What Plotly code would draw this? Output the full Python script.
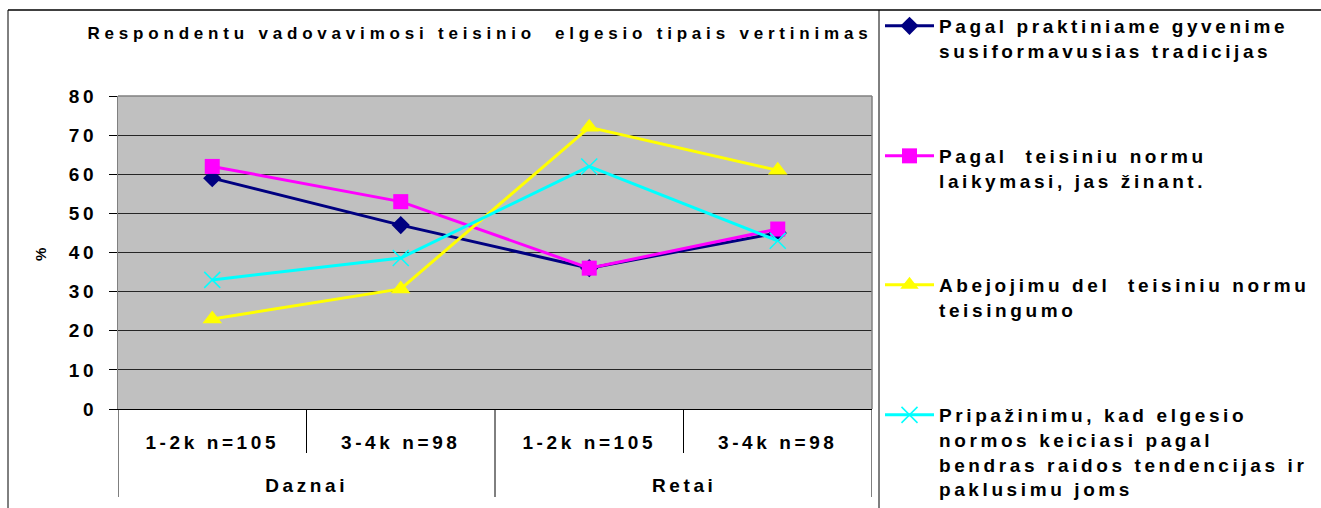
import plotly.graph_objects as go

# ---- data ----
groups = ["Daznai", "Daznai", "Retai", "Retai"]
subgroups = ["1-2k n=105", "3-4k n=98", "1-2k n=105", "3-4k n=98"]
series_names = [
    "Pagal praktiniame gyvenime<br>susiformavusias tradicijas",
    "Pagal  teisiniu normu<br>laikymasi, jas žinant.",
    "Abejojimu del  teisiniu normu<br>teisingumo",
    "Pripažinimu, kad elgesio<br>normos keiciasi pagal<br>bendras raidos tendencijas ir<br>paklusimu joms",
]
tradicijas = [59, 47, 36, 45]
laikymasi = [62, 53, 36, 46]
abejojimu = [23, 30.7, 72, 61]
pripazinimu = [33, 38.6, 62, 43]
y_ticks = [0, 10, 20, 30, 40, 50, 60, 70, 80]
title_text = "Respondentu vadovavimosi teisinio  elgesio tipais vertinimas"
y_title = "%"

series_values = [tradicijas, laikymasi, abejojimu, pripazinimu]
colors = ["#000080", "#FF00FF", "#FFFF00", "#00FFFF"]
symbols = ["diamond", "square", "triangle-up", "x-thin"]
sizes = [14, 15, 17, 16]

FONT = "Liberation Sans, Arial, sans-serif"

xpos = list(range(len(subgroups)))

W, H = 1321, 508
L, R, T, B = 118, 872, 96, 409
pw, ph = R - L, B - T


def px_x(px):
    return (px - L) / pw


def px_y(py):
    return (B - py) / ph


fig = go.Figure()
legend_names = ["legend", "legend2", "legend3", "legend4"]
legend_tops = [7, 137, 266, 396]
for i, (name, vals) in enumerate(zip(series_names, series_values)):
    marker = dict(symbol=symbols[i], size=sizes[i], color=colors[i])
    if symbols[i] == "x-thin":
        marker["line"] = dict(color=colors[i], width=1.5)
    fig.add_trace(go.Scatter(
        x=xpos, y=vals, name=name, mode="lines+markers",
        line=dict(color=colors[i], width=3), marker=marker,
        legend=legend_names[i],
    ))

legend_style = dict(x=px_x(880), xanchor="left", yanchor="top",
                    bgcolor="rgba(0,0,0,0)", valign="top",
                    font=dict(size=19), itemwidth=49)
legends = {}
for ln, top in zip(legend_names, legend_tops):
    legends[ln] = dict(legend_style, y=px_y(top))

fig.update_layout(
    width=W, height=H,
    margin=dict(l=L, r=W - R, t=T, b=H - B, autoexpand=False),
    paper_bgcolor="white", plot_bgcolor="#C0C0C0",
    font=dict(family=FONT, size=19, color="black", weight="bold"),
    title=dict(text=title_text, font=dict(size=17, weight="bold"),
               x=px_x(480), xref="paper", xanchor="center",
               y=1 - 33 / H, yref="container", yanchor="middle"),
    showlegend=True,
    xaxis=dict(range=[-0.5, len(subgroups) - 0.5], tickvals=xpos, ticktext=subgroups,
               showgrid=False, ticks="", zeroline=False,
               showline=True, linecolor="black", linewidth=1,
               tickfont=dict(size=19), ticklabelstandoff=16),
    yaxis=dict(range=[0, 80], tickvals=y_ticks, ticks="outside", ticklen=8,
               tickcolor="black", showgrid=True, gridcolor="#262626", gridwidth=1.2,
               showline=True, linecolor="#808080", linewidth=1,
               tickfont=dict(size=19), ticklabelstandoff=8,
               title=dict(text=y_title, font=dict(size=15), standoff=25),
               zeroline=False),
    **legends,
)

# group labels under the sub-category labels
for g in dict.fromkeys(groups):
    idx = [i for i, gg in enumerate(groups) if gg == g]
    fig.add_annotation(text=g, x=sum(idx) / len(idx), xref="x",
                       y=px_y(485), yref="paper", yanchor="middle",
                       showarrow=False, font=dict(size=19, weight="bold"))

# dividers: group boundaries long, sub-category boundaries short
for i in range(len(groups) + 1):
    is_group_edge = i == 0 or i == len(groups) or groups[i] != groups[i - 1]
    y_end = 497 if is_group_edge else 453
    fig.add_shape(type="line", xref="x", yref="paper", x0=i - 0.5, x1=i - 0.5,
                  y0=0, y1=px_y(y_end), line=dict(color="black", width=1))

# plot-area border (top/right grey)
fig.add_shape(type="line", xref="paper", yref="paper", x0=0, x1=1, y0=1, y1=1,
              line=dict(color="#808080", width=1.5))
fig.add_shape(type="line", xref="paper", yref="paper", x0=1, x1=1, y0=0, y1=1,
              line=dict(color="#808080", width=1.5))
# outer chart frame
fig.add_shape(type="line", xref="paper", yref="paper", x0=px_x(8), x1=px_x(8),
              y0=px_y(10), y1=px_y(520), line=dict(color="black", width=1))
fig.add_shape(type="line", xref="paper", yref="paper", x0=px_x(8), x1=px_x(1330),
              y0=px_y(10), y1=px_y(10), line=dict(color="black", width=1.5))
fig.add_shape(type="line", xref="paper", yref="paper", x0=px_x(879), x1=px_x(879),
              y0=px_y(10), y1=px_y(520), line=dict(color="black", width=1))

post = """
document.body.style.margin='0';
var s=document.createElement('style');
s.textContent='.main-svg text{letter-spacing:3.6px} .gtitle{letter-spacing:4.8px !important}'
 + ' [class^="legend"] .scrollbox, [class^="legend"]{clip-path:none !important}';
document.head.appendChild(s);
"""
fig.write_html("out.html", post_script=post, config={"displayModeBar": False})
